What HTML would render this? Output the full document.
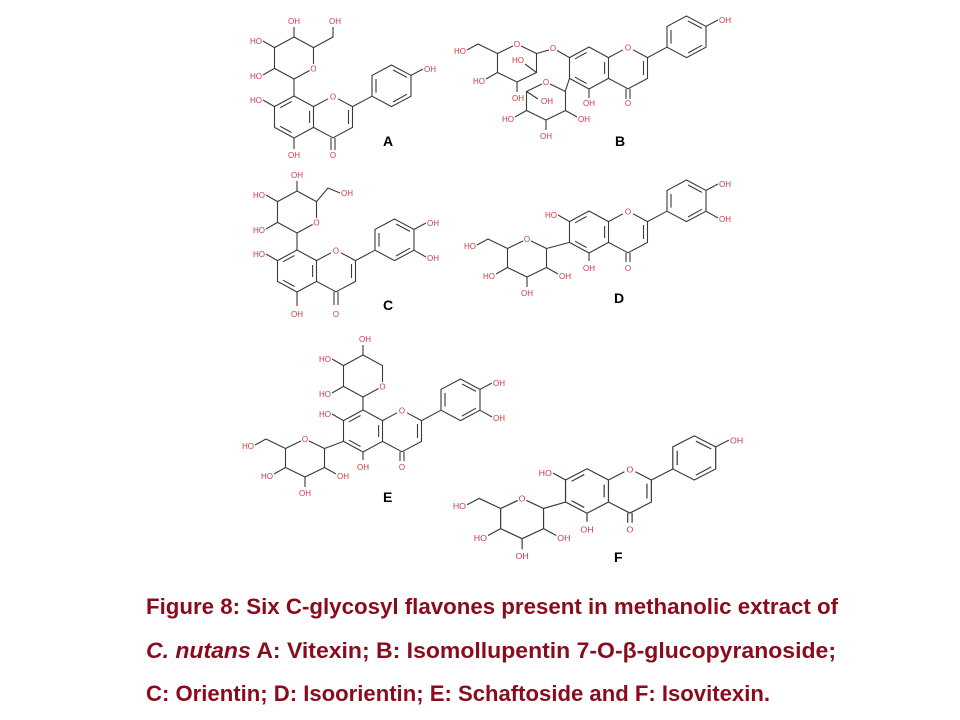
<!DOCTYPE html>
<html><head><meta charset="utf-8"><style>
html,body{margin:0;padding:0;background:#fff;}
svg{display:block;}
.b{fill:none;stroke:#3a3a3a;stroke-width:1.1;}
.t{font-family:"Liberation Sans",sans-serif;font-size:8px;fill:#d03a44;}
.m{text-anchor:middle;}
.e{text-anchor:end;}
.L{font-family:"Liberation Sans",sans-serif;font-size:14px;font-weight:bold;fill:#000;}
.cap{font-family:"Liberation Sans",sans-serif;font-size:22px;font-weight:bold;fill:#8a0c1c;}
</style></head><body>
<svg width="960" height="720" viewBox="0 0 960 720" xmlns="http://www.w3.org/2000/svg">
<defs></defs>

<!-- ===== A ===== -->
<g transform="translate(294,117)">
 <polygon class="b" points="0,-21 19.5,-10.4 19.5,10.4 0,21 -19.5,10.4 -19.5,-10.4"/>
 <path class="b" d="M15.6,-6V6 M-2.5,-15.5L-14,-9.2 M-14,9.2L-2.5,15.5 M19.5,-10.4L34,-18.2 M44,-18.2L58.5,-10.4V10.4L39,20.8L19.5,10.4 M54.5,-7V7 M37,20.8V33 M41,20.8V33 M58.5,-10.4L78,-20.8 M82,-38V-24.4 M99,-47L113,-39.6 M113,-22.8L99,-15 M117,-41.6L129,-48 M0,21V32 M-19.5,-10.4L-31,-17 M0,-21V-38"/>
 <polygon class="b" points="78,-20.8 78,-41.6 97.5,-52 117,-41.6 117,-20.8 97.5,-10.4"/>
 <text class="t m" x="39" y="-17.5">O</text><text class="t m" x="39" y="41">O</text>
 <text class="t m" x="0" y="41">OH</text><text class="t e" x="-32" y="-14">HO</text>
 <text class="t" x="130" y="-45">OH</text>
 <g transform="translate(0,-59)">
  <polygon class="b" points="0,21 19.5,10.4 19.5,-10.4 0,-21 -19.5,-10.4 -19.5,10.4"/>
  <circle cx="19.5" cy="10.4" r="4.5" fill="#fff"/><text class="t m" x="19.5" y="13.5">O</text>
  <path class="b" d="M0,-21V-31 M19.5,-10.4L39,-21V-31 M-19.5,-10.4L-31,-17 M-19.5,10.4L-31,17"/>
  <text class="t m" x="0" y="-34">OH</text><text class="t m" x="41" y="-34">OH</text>
  <text class="t e" x="-32" y="-14">HO</text><text class="t e" x="-32" y="21">HO</text>
 </g>
</g>
<text class="L" x="383" y="146">A</text>

<!-- ===== B ===== -->
<g transform="translate(589,68)">
 <polygon class="b" points="0,-21 19.5,-10.4 19.5,10.4 0,21 -19.5,10.4 -19.5,-10.4"/>
 <path class="b" d="M15.6,-6V6 M-2.5,-15.5L-14,-9.2 M-14,9.2L-2.5,15.5 M19.5,-10.4L34,-18.2 M44,-18.2L58.5,-10.4V10.4L39,20.8L19.5,10.4 M54.5,-7V7 M37,20.8V31 M41,20.8V31 M58.5,-10.4L78,-20.8 M82,-38V-24.4 M99,-47L113,-39.6 M113,-22.8L99,-15 M117,-41.6L129,-48 M0,21V30 M-19.5,-10.4L-32,-17.5 M-40,-18L-52.5,-14.5 M-19.5,10.4L-24,24"/>
 <polygon class="b" points="78,-20.8 78,-41.6 97.5,-52 117,-41.6 117,-20.8 97.5,-10.4"/>
 <text class="t m" x="39" y="-17.5">O</text><text class="t m" x="39" y="38">O</text>
 <text class="t m" x="0" y="38">OH</text><text class="t m" x="-36" y="-17">O</text>
 <text class="t" x="130" y="-45">OH</text>
 <g transform="translate(-72,-5)">
  <polygon class="b" points="0,-19 19.5,-9.5 19.5,9.5 0,19 -19.5,9.5 -19.5,-9.5"/>
  <circle cx="0" cy="-19" r="4.5" fill="#fff"/><text class="t m" x="0" y="-16">O</text>
  <path class="b" d="M-19.5,-9.5L-39,-19L-50,-13 M-19.5,9.5L-31,16 M0,19V29 M19.5,9.5L8,1"/>
  <text class="t e" x="-51" y="-9">HO</text><text class="t e" x="-32" y="21">HO</text>
  <text class="t m" x="1" y="38">OH</text><text class="t m" x="1" y="0">HO</text>
 </g>
 <g transform="translate(-43,33)">
  <polygon class="b" points="0,-19 19.5,-9.5 19.5,9.5 0,19 -19.5,9.5 -19.5,-9.5"/>
  <circle cx="0" cy="-19" r="4.5" fill="#fff"/><text class="t m" x="0" y="-16">O</text>
  <path class="b" d="M-19.5,-9.5L-8,-2 M-19.5,9.5L-31,16 M0,19V29 M19.5,9.5L31,16"/>
  <text class="t m" x="1" y="3">OH</text><text class="t e" x="-32" y="21">HO</text>
  <text class="t m" x="0" y="38">OH</text><text class="t" x="32" y="21">OH</text>
 </g>
</g>
<text class="L" x="615" y="146">B</text>

<!-- ===== C ===== -->
<g transform="translate(297,271)">
 <polygon class="b" points="0,-21 19.5,-10.4 19.5,10.4 0,21 -19.5,10.4 -19.5,-10.4"/>
 <path class="b" d="M15.6,-6V6 M-2.5,-15.5L-14,-9.2 M-14,9.2L-2.5,15.5 M19.5,-10.4L34,-18.2 M44,-18.2L58.5,-10.4V10.4L39,20.8L19.5,10.4 M54.5,-7V7 M37,20.8V34 M41,20.8V34 M58.5,-10.4L78,-20.8 M82,-38V-24.4 M99,-47L113,-39.6 M113,-22.8L99,-15 M117,-41.6L129,-48 M117,-20.8L129,-14 M0,21V35 M-19.5,-10.4L-31,-17 M0,-21V-38"/>
 <polygon class="b" points="78,-20.8 78,-41.6 97.5,-52 117,-41.6 117,-20.8 97.5,-10.4"/>
 <text class="t m" x="39" y="-17.5">O</text><text class="t m" x="39" y="46">O</text>
 <text class="t m" x="0" y="46">OH</text><text class="t e" x="-32" y="-14">HO</text>
 <text class="t" x="130" y="-45">OH</text><text class="t" x="130" y="-10">OH</text>
 <g transform="translate(0,-59)">
  <polygon class="b" points="0,21 19.5,10.4 19.5,-10.4 0,-21 -19.5,-10.4 -19.5,10.4"/>
  <circle cx="19.5" cy="10.4" r="4.5" fill="#fff"/><text class="t m" x="19.5" y="13.5">O</text>
  <path class="b" d="M0,-21V-31 M19.5,-10.4L31,-24L43,-19 M-19.5,-10.4L-31,-17 M-19.5,10.4L-31,17"/>
  <text class="t m" x="0" y="-34">OH</text><text class="t" x="44" y="-16">OH</text>
  <text class="t e" x="-32" y="-14">HO</text><text class="t e" x="-32" y="21">HO</text>
 </g>
</g>
<text class="L" x="383" y="310">C</text>

<!-- ===== D ===== -->
<g transform="translate(589,232)">
 <polygon class="b" points="0,-21 19.5,-10.4 19.5,10.4 0,21 -19.5,10.4 -19.5,-10.4"/>
 <path class="b" d="M15.6,-6V6 M-2.5,-15.5L-14,-9.2 M-14,9.2L-2.5,15.5 M19.5,-10.4L34,-18.2 M44,-18.2L58.5,-10.4V10.4L39,20.8L19.5,10.4 M54.5,-7V7 M37,20.8V30 M41,20.8V30 M58.5,-10.4L78,-20.8 M82,-38V-24.4 M99,-47L113,-39.6 M113,-22.8L99,-15 M117,-41.6L129,-48 M117,-20.8L129,-14 M0,21V29 M-19.5,-10.4L-31,-17 M-19.5,10.4L-42.5,16.5"/>
 <polygon class="b" points="78,-20.8 78,-41.6 97.5,-52 117,-41.6 117,-20.8 97.5,-10.4"/>
 <text class="t m" x="39" y="-17.5">O</text><text class="t m" x="39" y="39">O</text>
 <text class="t m" x="0" y="39">OH</text><text class="t e" x="-32" y="-14">HO</text>
 <text class="t" x="130" y="-45">OH</text><text class="t" x="130" y="-10">OH</text>
 <g transform="translate(-62,26)">
  <polygon class="b" points="0,-19 19.5,-9.5 19.5,9.5 0,19 -19.5,9.5 -19.5,-9.5"/>
  <circle cx="0" cy="-19" r="4.5" fill="#fff"/><text class="t m" x="0" y="-16">O</text>
  <path class="b" d="M-19.5,-9.5L-39,-19L-50,-13 M-19.5,9.5L-31,16 M0,19V29 M19.5,9.5L31,16"/>
  <text class="t e" x="-51" y="-9">HO</text><text class="t e" x="-32" y="21">HO</text>
  <text class="t m" x="0" y="38">OH</text><text class="t" x="32" y="21">OH</text>
 </g>
</g>
<text class="L" x="614" y="303">D</text>

<!-- ===== E ===== -->
<g transform="translate(363,431)">
 <polygon class="b" points="0,-21 19.5,-10.4 19.5,10.4 0,21 -19.5,10.4 -19.5,-10.4"/>
 <path class="b" d="M15.6,-6V6 M-2.5,-15.5L-14,-9.2 M-14,9.2L-2.5,15.5 M19.5,-10.4L34,-18.2 M44,-18.2L58.5,-10.4V10.4L39,20.8L19.5,10.4 M54.5,-7V7 M37,20.8V30 M41,20.8V30 M58.5,-10.4L78,-20.8 M82,-38V-24.4 M99,-47L113,-39.6 M113,-22.8L99,-15 M117,-41.6L129,-48 M117,-20.8L129,-14 M0,21V29 M-19.5,-10.4L-31,-17 M-19.5,10.4L-38.5,17.5 M0,-21V-34"/>
 <polygon class="b" points="78,-20.8 78,-41.6 97.5,-52 117,-41.6 117,-20.8 97.5,-10.4"/>
 <text class="t m" x="39" y="-17.5">O</text><text class="t m" x="39" y="39">O</text>
 <text class="t m" x="0" y="39">OH</text><text class="t e" x="-32" y="-14">HO</text>
 <text class="t" x="130" y="-45">OH</text><text class="t" x="130" y="-10">OH</text>
 <g transform="translate(0,-55)">
  <polygon class="b" points="0,21 19.5,10.4 19.5,-10.4 0,-21 -19.5,-10.4 -19.5,10.4"/>
  <circle cx="19.5" cy="10.4" r="4.5" fill="#fff"/><text class="t m" x="19.5" y="13.5">O</text>
  <path class="b" d="M0,-21V-31 M-19.5,-10.4L-31,-17 M-19.5,10.4L-31,17"/>
  <text class="t m" x="2" y="-34">OH</text>
  <text class="t e" x="-32" y="-14">HO</text><text class="t e" x="-32" y="21">HO</text>
 </g>
 <g transform="translate(-58,27)">
  <polygon class="b" points="0,-19 19.5,-9.5 19.5,9.5 0,19 -19.5,9.5 -19.5,-9.5"/>
  <circle cx="0" cy="-19" r="4.5" fill="#fff"/><text class="t m" x="0" y="-16">O</text>
  <path class="b" d="M-19.5,-9.5L-39,-19L-50,-13 M-19.5,9.5L-31,16 M0,19V29 M19.5,9.5L31,16"/>
  <text class="t e" x="-51" y="-9">HO</text><text class="t e" x="-32" y="21">HO</text>
  <text class="t m" x="0" y="38">OH</text><text class="t" x="32" y="21">OH</text>
 </g>
</g>
<text class="L" x="383" y="502">E</text>

<!-- ===== F ===== -->
<g transform="translate(587,491) scale(1.1,1.06)">
 <polygon class="b" points="0,-21 19.5,-10.4 19.5,10.4 0,21 -19.5,10.4 -19.5,-10.4"/>
 <path class="b" d="M15.6,-6V6 M-2.5,-15.5L-14,-9.2 M-14,9.2L-2.5,15.5 M19.5,-10.4L34,-18.2 M44,-18.2L58.5,-10.4V10.4L39,20.8L19.5,10.4 M54.5,-7V7 M37,20.8V30 M41,20.8V30 M58.5,-10.4L78,-20.8 M82,-38V-24.4 M99,-47L113,-39.6 M113,-22.8L99,-15 M117,-41.6L129,-48 M0,21V29 M-19.5,-10.4L-31,-17 M-19.5,10.4L-39.5,16.5"/>
 <polygon class="b" points="78,-20.8 78,-41.6 97.5,-52 117,-41.6 117,-20.8 97.5,-10.4"/>
 <text class="t m" x="39" y="-17.5">O</text><text class="t m" x="39" y="39">O</text>
 <text class="t m" x="0" y="39">OH</text><text class="t e" x="-32" y="-14">HO</text>
 <text class="t" x="130" y="-45">OH</text>
 <g transform="translate(-59,26)">
  <polygon class="b" points="0,-19 19.5,-9.5 19.5,9.5 0,19 -19.5,9.5 -19.5,-9.5"/>
  <circle cx="0" cy="-19" r="4.5" fill="#fff"/><text class="t m" x="0" y="-16">O</text>
  <path class="b" d="M-19.5,-9.5L-39,-19L-50,-13 M-19.5,9.5L-31,16 M0,19V29 M19.5,9.5L31,16"/>
  <text class="t e" x="-51" y="-9">HO</text><text class="t e" x="-32" y="21">HO</text>
  <text class="t m" x="0" y="38">OH</text><text class="t" x="32" y="21">OH</text>
 </g>
</g>
<text class="L" x="614" y="562">F</text>

<!-- caption -->
<text class="cap" x="146" y="614" textLength="692" lengthAdjust="spacingAndGlyphs">Figure 8: Six C-glycosyl flavones present in methanolic extract of</text>
<text class="cap" x="146" y="658" textLength="690" lengthAdjust="spacingAndGlyphs"><tspan font-style="italic">C.  nutans</tspan> A:  Vitexin;  B:  Isomollupentin  7-O-β-glucopyranoside;</text>
<text class="cap" x="146" y="701" textLength="624" lengthAdjust="spacingAndGlyphs">C: Orientin; D: Isoorientin; E: Schaftoside and F: Isovitexin.</text>
</svg>
</body></html>
